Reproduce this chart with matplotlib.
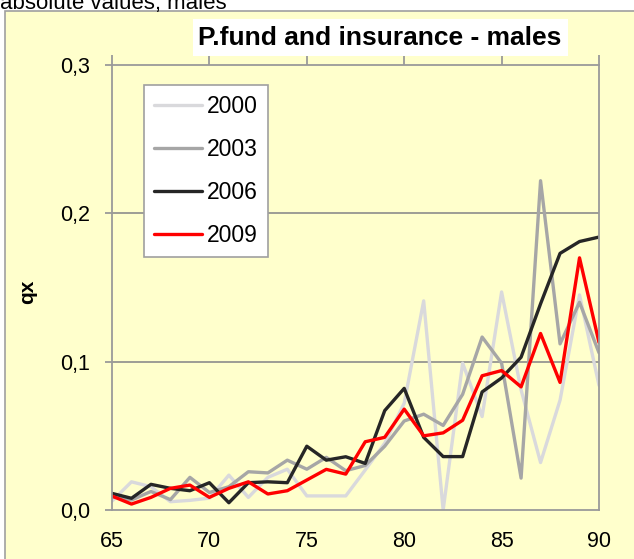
import matplotlib
matplotlib.use("Agg")
import matplotlib.pyplot as plt
from matplotlib.patches import Rectangle

ages = list(range(65, 91))
q2000 = [0.006, 0.019, 0.0157, 0.0056, 0.0065, 0.008, 0.0235, 0.0085, 0.022, 0.0275,
         0.0095, 0.0095, 0.0095, 0.027, 0.045, 0.072, 0.141, 0.0, 0.099, 0.063,
         0.147, 0.081, 0.032, 0.074, 0.145, 0.084]
q2003 = [0.009, 0.0067, 0.0125, 0.007, 0.022, 0.0118, 0.0157, 0.0258, 0.025, 0.0336,
         0.0275, 0.0355, 0.0265, 0.030, 0.043, 0.060, 0.0646, 0.057, 0.078, 0.1166,
         0.099, 0.0215, 0.222, 0.112, 0.140, 0.106]
q2006 = [0.0112, 0.0079, 0.0173, 0.0146, 0.013, 0.0184, 0.0049, 0.0184, 0.019, 0.0184,
         0.043, 0.0336, 0.0359, 0.0314, 0.067, 0.082, 0.049, 0.036, 0.036, 0.0796,
         0.089, 0.103, 0.139, 0.173, 0.181, 0.184]
q2009 = [0.0094, 0.004, 0.0085, 0.0146, 0.0168, 0.0085, 0.0146, 0.019, 0.0108, 0.013,
         0.0202, 0.0274, 0.0242, 0.046, 0.049, 0.068, 0.050, 0.052, 0.0605, 0.0905,
         0.094, 0.083, 0.119, 0.086, 0.170, 0.113]
series = [("2000", q2000, "#D9D9DC"), ("2003", q2003, "#A6A6A6"),
          ("2006", q2006, "#262626"), ("2009", q2009, "#FF0000")]
yticks = [0.0, 0.1, 0.2, 0.3]
ytick_labels = ["0,0", "0,1", "0,2", "0,3"]
xticks = [65, 70, 75, 80, 85, 90]

W, H = 634, 559
plt.rcParams['font.family'] = ['Liberation Sans', 'DejaVu Sans']
fig = plt.figure(figsize=(W / 100, H / 100), dpi=100)
fig.patch.set_facecolor("white")

# chart area
fig.patches.append(Rectangle((5 / W, -0.01), 1.0, 1 - 11 / H + 0.01, transform=fig.transFigure,
                             facecolor="#FFFFCC", edgecolor="#A0A0A0", linewidth=1.2, zorder=-5))
fig.text(0 / W, 1 - 9 / H, "absolute values, males", fontsize=16, ha="left", va="baseline",
         color="black")

ax = fig.add_axes([112 / W, 49 / H, 487 / W, 445 / H])
ax.set_zorder(1)
ax.set_facecolor("#FFFFCC")
for name, vals, col in series:
    ax.plot(ages, vals, color=col, linewidth=2.4, label=name, solid_joinstyle="round",
            solid_capstyle="round")

ax.set_xlim(65, 90)
ax.set_ylim(0, 0.3)
ax.set_xticks(xticks)
ax.set_xticklabels([str(x) for x in xticks])
ax.set_yticks(yticks)
ax.set_yticklabels(ytick_labels)
for y in [0.1, 0.2]:
    ax.axhline(y, color="#8C8C8C", linewidth=1.2, zorder=0.5)
for s in ax.spines.values():
    s.set_color("#9A9A9A")
    s.set_linewidth(1.3)
ax.tick_params(axis="x", bottom=False, top=True, labelbottom=True, labeltop=False,
               direction="out", length=7, width=1.3, color="#9A9A9A", pad=8,
               labelsize=15.5)
ax.tick_params(axis="y", left=True, direction="out", length=5, width=1.3, color="#9A9A9A",
               pad=11, labelsize=15.5)

leg = ax.legend(loc="upper left", bbox_to_anchor=((144 - 112) / 487, (510 - 85) / 445),
                borderaxespad=0, fontsize=16.5, handlelength=2.1, handletextpad=0.2,
                labelspacing=0.87, borderpad=0.45, fancybox=False, framealpha=1)
leg.get_frame().set_edgecolor("#A0A0A0")
leg.get_frame().set_linewidth(1.2)

fig.text(28 / W, 1 - 292 / H, "qx", rotation=90, ha="center", va="center",
         fontsize=15, fontweight="bold")

# title with white box
fig.patches.append(Rectangle((193 / W, 1 - 56 / H), 375 / W, 37 / H, transform=fig.transFigure,
                             facecolor="white", edgecolor="none", zorder=5))
fig.text(380 / W, 1 - 38 / H, "P.fund and insurance - males", ha="center", va="center",
         fontsize=19, fontweight="bold", zorder=6)

fig.savefig("out.png", dpi=100)
